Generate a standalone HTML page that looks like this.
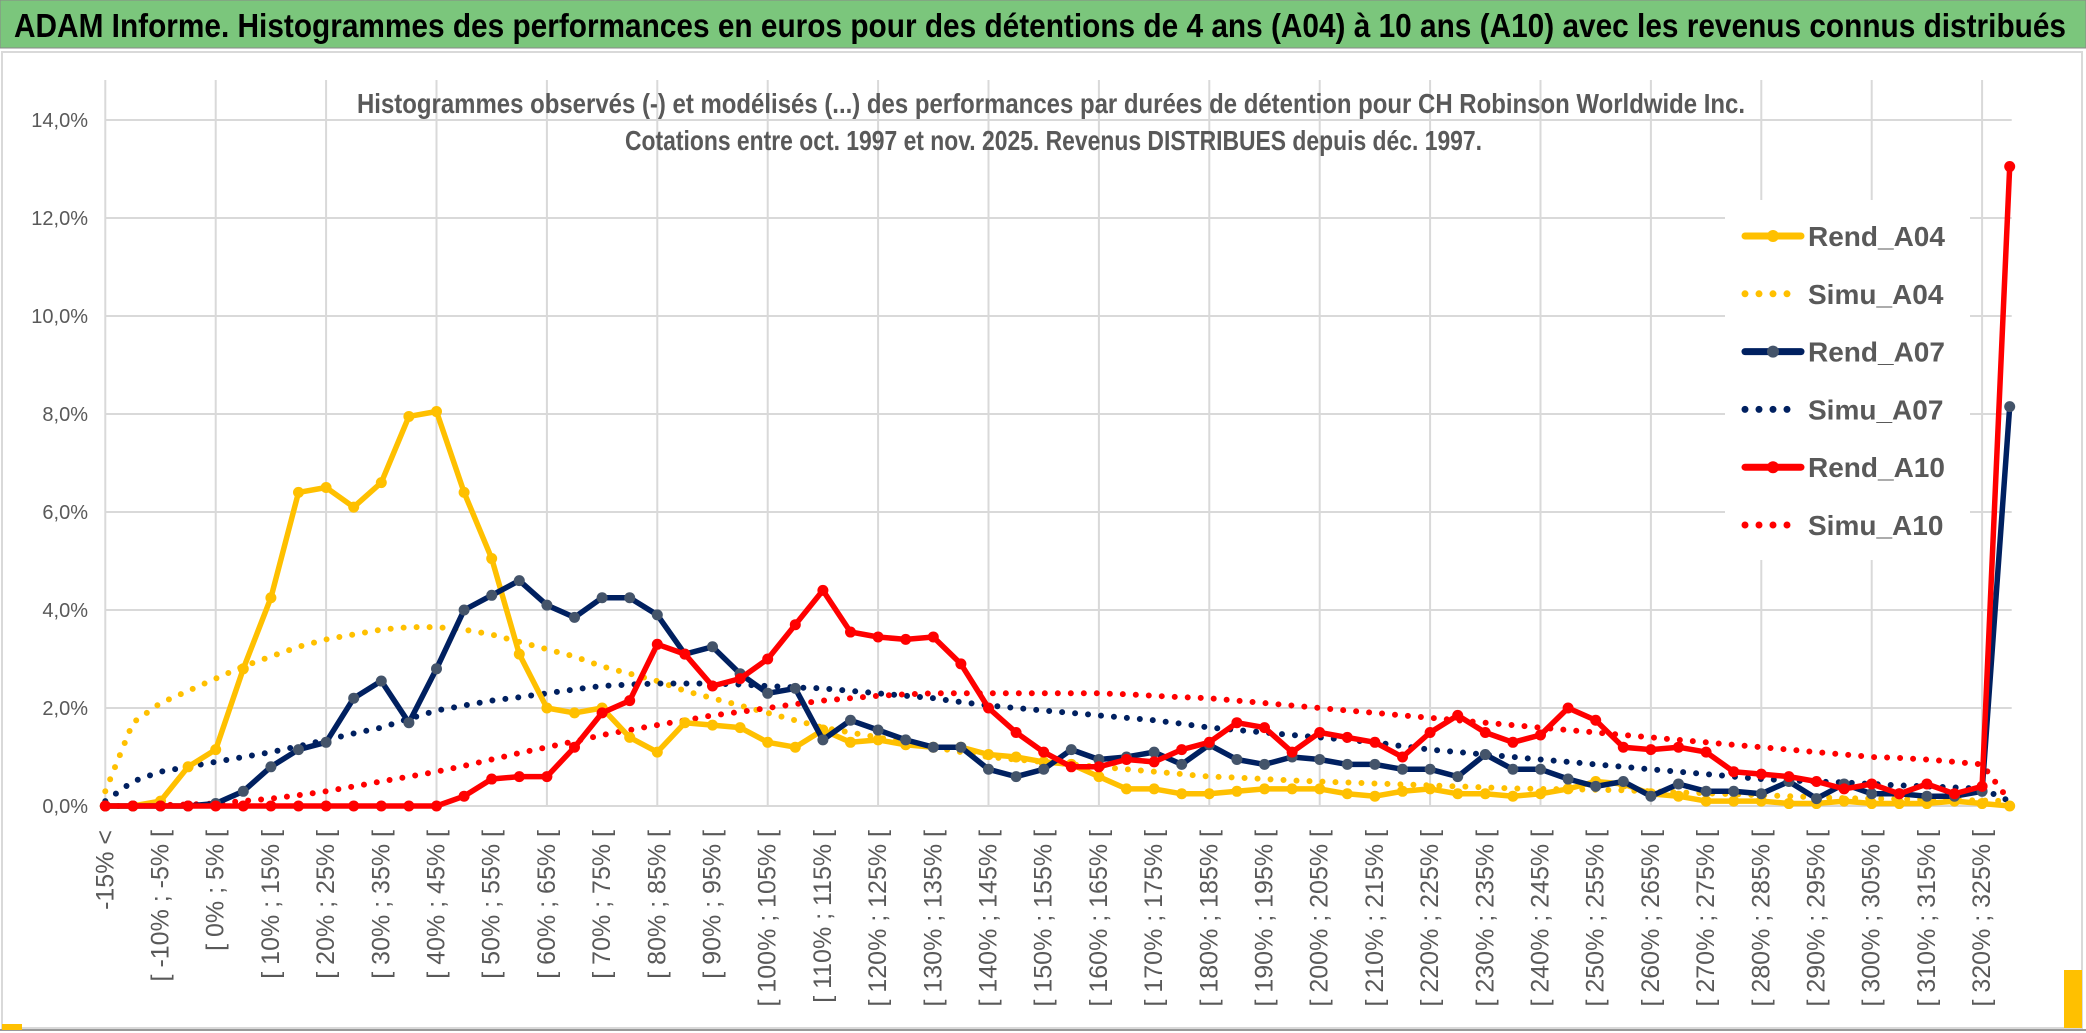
<!DOCTYPE html>
<html><head><meta charset="utf-8"><style>
html,body{margin:0;padding:0;background:#fff;}
svg{display:block;font-family:"Liberation Sans Narrow","Liberation Sans",sans-serif;}
</style></head><body>
<svg id="chart" width="2086" height="1033" viewBox="0 0 2086 1033" xmlns="http://www.w3.org/2000/svg">
<rect x="0" y="0" width="2086" height="1033" fill="#fff"/>
<rect x="0" y="0" width="2086" height="48" fill="#7bc67c" stroke="#888" stroke-width="1"/>
<text x="14" y="37" font-size="33" font-weight="bold" fill="#000" textLength="2052" lengthAdjust="spacingAndGlyphs">ADAM Informe. Histogrammes des performances en euros pour des détentions de 4 ans (A04) à 10 ans (A10) avec les revenus connus distribués</text>
<rect x="2" y="52" width="2080" height="976" fill="none" stroke="#d9d9d9" stroke-width="2"/>
<line x1="0" y1="1030" x2="2086" y2="1030" stroke="#999" stroke-width="2"/>
<rect x="2" y="1024" width="20" height="6" fill="#ffc000"/>
<rect x="2064" y="970" width="18" height="58" fill="#ffc000"/>
<g id="grid"></g>
<g id="yaxis"></g>
<g id="xaxis"></g>
<text x="357" y="113" font-size="28" font-weight="bold" fill="#595959" textLength="1388" lengthAdjust="spacingAndGlyphs">Histogrammes observés (-) et modélisés (...) des performances par durées de détention pour CH Robinson Worldwide Inc.</text>
<text x="625" y="150" font-size="28" font-weight="bold" fill="#595959" textLength="857" lengthAdjust="spacingAndGlyphs">Cotations entre oct. 1997 et nov. 2025. Revenus DISTRIBUES depuis déc. 1997.</text>
<g id="legend"></g>
<g id="series"></g>
</svg>
<script>
const categories = (function(){const c=["-15% <"];for(let a=-15;a<330;a+=5){c.push("[ "+a+"% ; "+(a+5)+"% [");}return c;})().slice(0,70);
const yTicks = [0,2,4,6,8,10,12,14];
const yTickLabels = ["0,0%","2,0%","4,0%","6,0%","8,0%","10,0%","12,0%","14,0%"];
const rendA04 = [0,0,0.1,0.8,1.15,2.8,4.25,6.4,6.5,6.1,6.6,7.95,8.05,6.4,5.05,3.1,2.0,1.9,2.0,1.4,1.1,1.7,1.65,1.6,1.3,1.2,1.55,1.3,1.35,1.25,1.2,1.2,1.05,1.0,0.9,0.85,0.6,0.35,0.35,0.25,0.25,0.3,0.35,0.35,0.35,0.25,0.2,0.3,0.35,0.25,0.25,0.2,0.25,0.35,0.5,0.45,0.25,0.2,0.1,0.1,0.1,0.05,0.05,0.1,0.05,0.05,0.05,0.1,0.05,0.0];
const simuA04 = [0.3,1.7,2.1,2.35,2.6,2.85,3.05,3.25,3.4,3.5,3.6,3.65,3.65,3.6,3.5,3.35,3.2,3.05,2.85,2.7,2.55,2.35,2.2,2.05,1.9,1.75,1.6,1.5,1.4,1.3,1.2,1.1,1.0,0.95,0.9,0.85,0.8,0.75,0.7,0.65,0.6,0.58,0.55,0.52,0.5,0.48,0.46,0.44,0.42,0.4,0.38,0.36,0.35,0.34,0.33,0.32,0.3,0.28,0.26,0.24,0.22,0.2,0.18,0.16,0.15,0.14,0.13,0.12,0.11,0.1];
const rendA07 = [0,0,0,0,0.05,0.3,0.8,1.15,1.3,2.2,2.55,1.7,2.8,4.0,4.3,4.6,4.1,3.85,4.25,4.25,3.9,3.1,3.25,2.7,2.3,2.4,1.35,1.75,1.55,1.35,1.2,1.2,0.75,0.6,0.75,1.15,0.95,1.0,1.1,0.85,1.25,0.95,0.85,1.0,0.95,0.85,0.85,0.75,0.75,0.6,1.05,0.75,0.75,0.55,0.4,0.5,0.2,0.45,0.3,0.3,0.25,0.5,0.15,0.45,0.25,0.25,0.2,0.2,0.3,8.15];
const simuA07 = [0.1,0.5,0.7,0.8,0.9,1.0,1.1,1.22,1.35,1.48,1.6,1.78,1.95,2.05,2.15,2.22,2.3,2.38,2.45,2.48,2.5,2.5,2.5,2.48,2.45,2.42,2.4,2.35,2.3,2.25,2.2,2.12,2.05,2.0,1.95,1.9,1.85,1.8,1.75,1.68,1.6,1.55,1.5,1.45,1.4,1.35,1.3,1.22,1.15,1.1,1.05,1.0,0.95,0.9,0.85,0.8,0.75,0.7,0.65,0.6,0.55,0.52,0.5,0.48,0.45,0.42,0.4,0.38,0.35,0.1];
const rendA10 = [0,0,0,0,0,0,0,0,0,0,0,0,0,0.2,0.55,0.6,0.6,1.2,1.9,2.15,3.3,3.1,2.45,2.6,3.0,3.7,4.4,3.55,3.45,3.4,3.45,2.9,2.0,1.5,1.1,0.8,0.8,0.95,0.9,1.15,1.3,1.7,1.6,1.1,1.5,1.4,1.3,1.0,1.5,1.85,1.5,1.3,1.45,2.0,1.75,1.2,1.15,1.2,1.1,0.7,0.65,0.6,0.5,0.35,0.45,0.25,0.45,0.25,0.4,13.05];
const simuA10 = [0,0,0.02,0.03,0.05,0.1,0.15,0.22,0.3,0.4,0.5,0.6,0.7,0.82,0.95,1.08,1.2,1.32,1.45,1.55,1.65,1.75,1.85,1.92,2.0,2.08,2.15,2.2,2.25,2.28,2.3,2.3,2.3,2.3,2.3,2.3,2.3,2.28,2.25,2.22,2.2,2.15,2.1,2.05,2.0,1.95,1.9,1.85,1.8,1.75,1.7,1.65,1.6,1.55,1.5,1.45,1.4,1.35,1.3,1.25,1.2,1.15,1.1,1.05,1.0,0.98,0.95,0.9,0.85,0.1];

const NS="http://www.w3.org/2000/svg";
const X0=105.3, DX=27.6, Y0=806, PPU=49.0;
function xPos(i){return X0+i*DX;}
function yPos(v){return Y0-v*PPU;}
function mk(tag,attrs,parent){const e=document.createElementNS(NS,tag);for(const k in attrs)e.setAttribute(k,attrs[k]);parent.appendChild(e);return e;}

const grid=document.getElementById('grid');
yTicks.forEach((t,i)=>{
  const l=mk('line',{x1:X0,x2:xPos(69)+2,y1:yPos(t),y2:yPos(t),stroke:'#d9d9d9','stroke-width':2},grid);
  
  
});
for(let i=0;i<categories.length;i+=4){
  const l=mk('line',{x1:xPos(i),x2:xPos(i),y1:80,y2:Y0,stroke:'#d9d9d9','stroke-width':2},grid);
  
  
}
const ya=document.getElementById('yaxis');
yTicks.forEach((t,i)=>{
  const tx=mk('text',{x:88,y:yPos(t)+7,'font-size':20,fill:'#595959','text-anchor':'end'},ya);
  tx.textContent=yTickLabels[i];
  
  
});
const xa=document.getElementById('xaxis');
for(let i=0;i<categories.length;i+=2){
  const x=xPos(i)+8, y=830;
  const tx=mk('text',{x:x,y:y,'font-size':25,fill:'#595959','text-anchor':'end',transform:'rotate(-90 '+x+' '+y+')'},xa);
  tx.textContent=categories[i];
  
  
}
const sg=document.getElementById('series');
function pts(arr){return arr.map((v,i)=>xPos(i).toFixed(1)+','+yPos(v).toFixed(1)).join(' ');}
function dotted(arr,color,name){
  const p=mk('polyline',{points:pts(arr),fill:'none',stroke:color,'stroke-width':6,'stroke-linecap':'round','stroke-dasharray':'0 13'},sg);
  
  
}
function solid(arr,color,mcolor,name){
  const p=mk('polyline',{points:pts(arr),fill:'none',stroke:color,'stroke-width':5.5,'stroke-linejoin':'round'},sg);
  
  
  arr.forEach((v,i)=>{
    const c=mk('circle',{cx:xPos(i),cy:yPos(v),r:5.5,fill:mcolor},sg);
    
    
  });
}
dotted(simuA04,'#ffc000','simu-a04-line');
dotted(simuA07,'#002060','simu-a07-line');
dotted(simuA10,'#ff0000','simu-a10-line');
solid(rendA04,'#ffc000','#ffc000','rend-a04-line');
solid(rendA07,'#002060','#44546a','rend-a07-line');
solid(rendA10,'#ff0000','#ff0000','rend-a10-line');

const lg=document.getElementById('legend');
const legendItems=[["Rend_A04",'#ffc000','#ffc000',true],["Simu_A04",'#ffc000',null,false],["Rend_A07",'#002060','#44546a',true],["Simu_A07",'#002060',null,false],["Rend_A10",'#ff0000','#ff0000',true],["Simu_A10",'#ff0000',null,false]];
mk('rect',{x:1725,y:200,width:245,height:360,fill:'#fff'},lg);
legendItems.forEach((it,k)=>{
  const y=236+k*57.8;
  const g=mk('g',{},lg);
  
  
  if(it[3]){
    mk('line',{x1:1745,x2:1801,y1:y,y2:y,stroke:it[1],'stroke-width':7,'stroke-linecap':'round'},g);
    mk('circle',{cx:1773,cy:y,r:6,fill:it[2]},g);
  } else {
    mk('line',{x1:1745,x2:1801,y1:y,y2:y,stroke:it[1],'stroke-width':7,'stroke-linecap':'round','stroke-dasharray':'0 14'},g);
  }
  const t=mk('text',{x:1808,y:y+10,'font-size':28,'font-weight':'bold',fill:'#595959'},g);
  t.textContent=it[0];
});
</script>
</body></html>
